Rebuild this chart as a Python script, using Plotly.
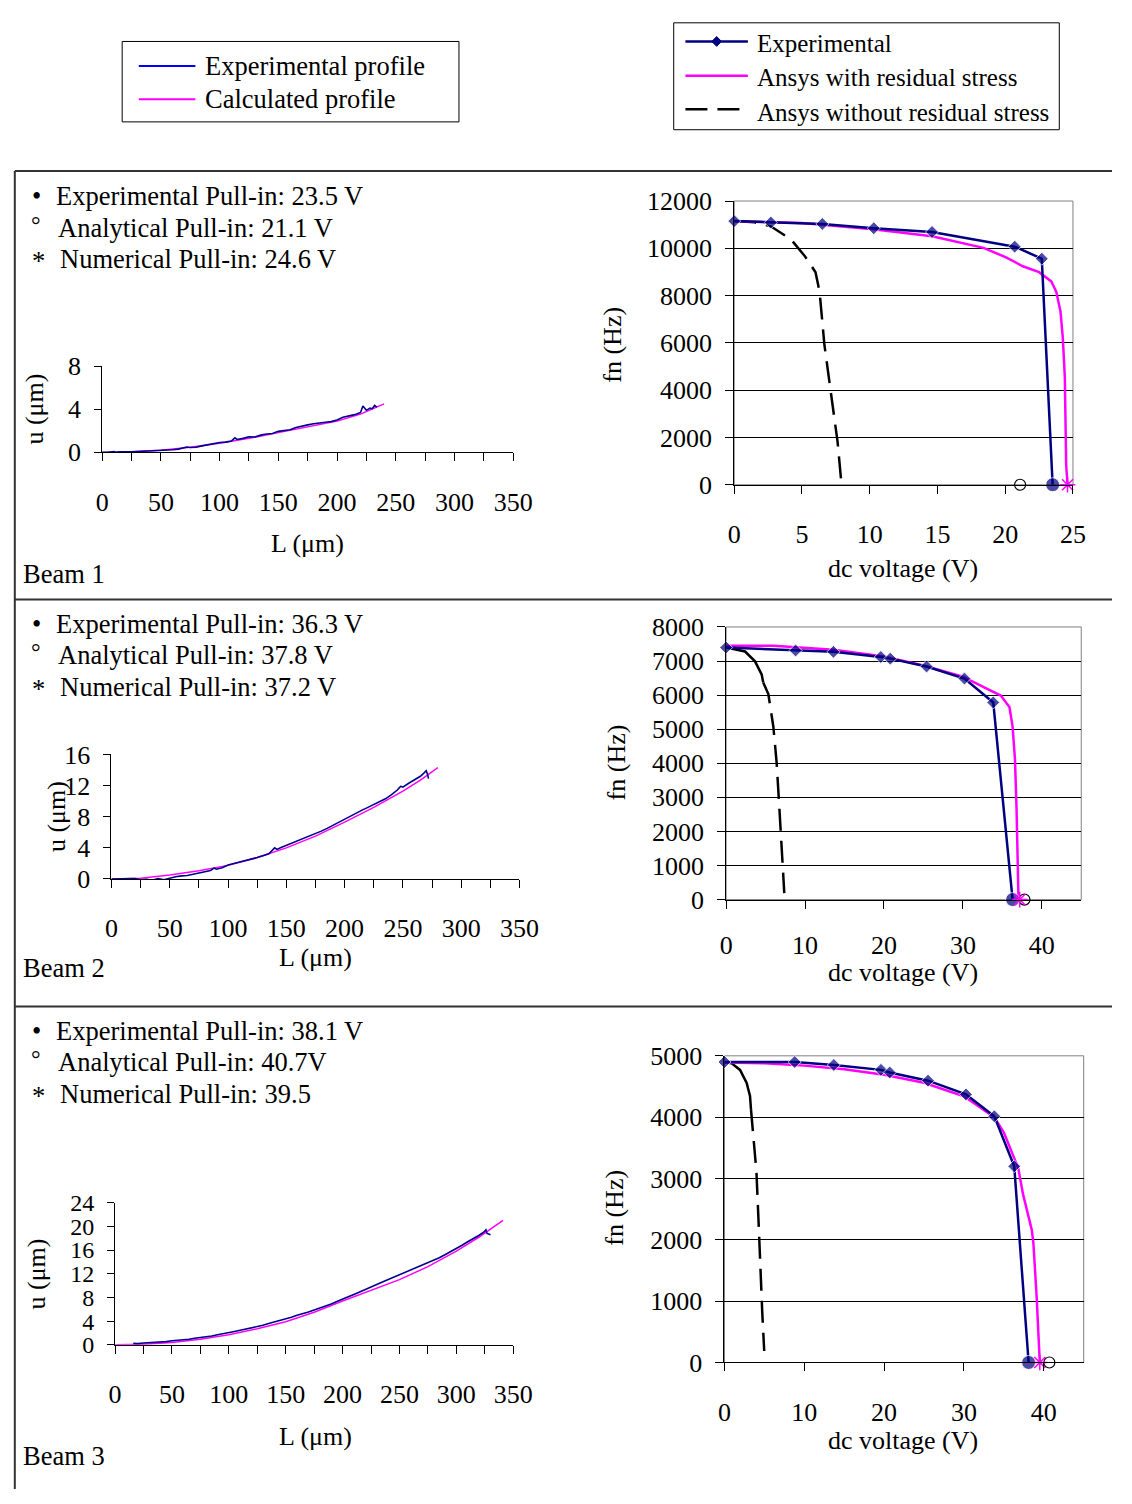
import plotly.graph_objects as go

W, H = 1132, 1504
FONT = "Liberation Serif"

# ---------------- data ----------------
# Deflection profiles (L in um, u in um)
b1_exp_L = [0, 5, 10, 12, 15, 20, 25, 30, 35, 40, 45, 50, 55, 60, 65, 70, 72, 75, 80, 85, 90, 95, 100, 105, 110, 113,
            115, 120, 125, 130, 135, 140, 145, 150, 155, 160, 165, 170, 175, 180, 185, 190, 195, 200, 205, 210, 215,
            220, 222, 225, 228, 230, 232, 234]
b1_exp_u = [0, 0, 0.08, 0, 0.05, 0.02, 0.05, 0.08, 0.1, 0.12, 0.18, 0.16, 0.22, 0.25, 0.3, 0.42, 0.5, 0.45, 0.48, 0.6,
            0.72, 0.8, 0.92, 0.95, 1.05, 1.35, 1.2, 1.3, 1.45, 1.42, 1.6, 1.7, 1.75, 1.95, 2.05, 2.1, 2.3, 2.45, 2.55,
            2.65, 2.75, 2.8, 2.85, 3.0, 3.25, 3.35, 3.5, 3.7, 4.3, 3.9, 4.1, 4.05, 4.35, 4.2]
b1_calc_L = [0, 25, 50, 75, 100, 125, 150, 175, 200, 220, 240]
b1_calc_u = [0, 0.05, 0.2, 0.47, 0.85, 1.3, 1.83, 2.35, 2.9, 3.55, 4.5]

b2_exp_L = [0, 10, 20, 25, 30, 35, 40, 45, 50, 55, 60, 65, 70, 75, 80, 85, 88, 90, 95, 100, 105, 110, 115, 120, 125,
            130, 135, 140, 142, 145, 150, 155, 160, 165, 170, 175, 180, 185, 190, 195, 200, 205, 210, 215, 220, 225,
            230, 235, 240, 245, 248, 250, 255, 260, 265, 268, 270, 271, 272]
b2_exp_u = [0, 0, 0.05, -0.1, -0.05, -0.15, 0.05, -0.1, 0.15, 0.3, 0.4, 0.45, 0.6, 0.75, 0.9, 1.1, 1.4, 1.25, 1.45,
            1.8, 2.0, 2.2, 2.35, 2.5, 2.75, 3.0, 3.25, 4.0, 3.8, 4.0, 4.3, 4.6, 4.9, 5.2, 5.5, 5.8, 6.15, 6.5, 6.9,
            7.3, 7.75, 8.05, 8.5, 8.85, 9.2, 9.55, 9.85, 10.3, 10.8, 11.4, 11.9, 11.8, 12.3, 12.7, 13.2, 13.6, 13.9,
            13.5, 12.9]
b2_calc_L = [0, 25, 50, 75, 100, 125, 150, 175, 200, 225, 250, 265, 280]
b2_calc_u = [0, 0.1, 0.5, 1.05, 1.75, 2.75, 4.0, 5.5, 7.3, 9.2, 11.3, 12.7, 14.3]

b3_exp_L = [16, 20, 25, 30, 35, 40, 45, 50, 55, 60, 65, 70, 75, 80, 85, 90, 95, 100, 105, 110, 115, 120, 125, 130,
            135, 140, 145, 150, 155, 160, 165, 170, 175, 180, 185, 190, 195, 200, 205, 210, 215, 220, 225, 230, 235,
            240, 245, 250, 255, 260, 265, 270, 275, 280, 285, 290, 295, 300, 305, 310, 315, 320, 324, 326, 327, 330]
b3_exp_u = [0.25, 0.2, 0.3, 0.35, 0.45, 0.5, 0.55, 0.7, 0.75, 0.85, 0.95, 1.1, 1.2, 1.4, 1.5, 1.7, 1.85, 2.05, 2.25,
            2.45, 2.65, 2.85, 3.1, 3.3, 3.6, 3.85, 4.1, 4.4, 4.65, 5.0, 5.25, 5.55, 5.9, 6.2, 6.55, 6.9, 7.3, 7.75,
            8.1, 8.5, 8.95, 9.35, 9.8, 10.2, 10.6, 11.0, 11.4, 11.8, 12.3, 12.65, 13.0, 13.4, 13.8, 14.2, 14.7, 15.2,
            15.7, 16.3, 16.8, 17.4, 17.9, 18.5, 19.0, 19.4, 18.8, 18.6]
b3_calc_L = [0, 25, 50, 75, 100, 125, 150, 175, 200, 225, 250, 275, 300, 320, 341]
b3_calc_u = [0, 0.1, 0.4, 0.95, 1.7, 2.7, 3.9, 5.5, 7.4, 9.2, 11.0, 13.2, 15.8, 18.2, 21.0]

# Natural frequency vs dc voltage (V, Hz)
b1_exp_v = [0, 2.7, 6.5, 10.3, 14.6, 20.7, 22.7, 23.5]
b1_exp_f = [11150, 11090, 11030, 10850, 10690, 10070, 9560, 0]
b1_res_v = [0, 5, 10.25, 14.6, 18.4, 20.1, 21.3, 22.5, 23.4, 23.77, 24.08, 24.25, 24.4, 24.45, 24.5, 24.6]
b1_res_f = [11150, 11070, 10810, 10510, 10020, 9610, 9240, 8990, 8600, 8160, 7330, 6220, 4560, 1800, 830, 0]
b1_nores_v = [0, 1.5, 2.7, 4.2, 5.2, 6.0, 6.3, 6.65, 7.14, 7.63, 7.92]
b1_nores_f = [11150, 11100, 10930, 10370, 9680, 8990, 8160, 5950, 3870, 1800, 0]

b2_exp_v = [0, 8.8, 13.6, 19.6, 20.8, 25.4, 30.2, 33.85, 36.3]
b2_exp_f = [7395, 7310, 7270, 7120, 7070, 6840, 6485, 5785, 0]
b2_res_v = [0, 6, 13.6, 20, 25, 30, 32.7, 34.8, 35.9, 36.3, 36.6, 36.8, 37.05]
b2_res_f = [7450, 7450, 7330, 7130, 6870, 6540, 6226, 5987, 5651, 5077, 4119, 2682, 0]
b2_nores_v = [0, 2.4, 3.66, 4.5, 4.7, 5.35, 5.98, 6.4, 6.7, 7.0, 7.37]
b2_nores_f = [7400, 7280, 6990, 6610, 6370, 6030, 5080, 4020, 2870, 1720, 190]

b3_exp_v = [0, 8.8, 13.7, 19.6, 20.7, 25.5, 30.25, 33.8, 36.3, 38.1]
b3_exp_f = [4899, 4899, 4851, 4771, 4728, 4595, 4371, 4014, 3198, 0]
b3_res_v = [0, 5, 10, 15, 20, 25, 30, 33.8, 35, 36.8, 37.4, 38.5, 38.7, 39.1, 39.5]
b3_res_f = [4890, 4880, 4840, 4780, 4690, 4560, 4340, 4000, 3750, 3170, 2745, 2160, 1945, 1090, 0]
b3_nores_v = [0, 0.9, 1.95, 2.78, 3.2, 3.32, 3.6, 4.0, 4.23, 4.44, 4.73, 4.98]
b3_nores_f = [4900, 4877, 4770, 4557, 4344, 4131, 3758, 3118, 2425, 1626, 826, 187]

# Pull-in voltages [analytical, numerical]
b1_pull = [21.1, 24.6]
b2_pull = [37.8, 37.2]
b3_pull = [40.7, 39.5]

b1_text = ["Experimental Pull-in: 23.5 V", "Analytical Pull-in: 21.1 V", "Numerical Pull-in: 24.6 V"]
b2_text = ["Experimental Pull-in: 36.3 V", "Analytical Pull-in: 37.8 V", "Numerical Pull-in: 37.2 V"]
b3_text = ["Experimental Pull-in: 38.1 V", "Analytical Pull-in: 40.7V", "Numerical Pull-in: 39.5"]
beam_names = ["Beam 1", "Beam 2", "Beam 3"]

# ---------------- helpers ----------------
def fx(p):
    return p / W


def fy(p):
    return 1 - p / H


NAVY = "#000080"
MAG = "#FF00FF"
PBLUE = "#00008F"

fig = go.Figure()
ann = []
shapes = []

TICKFONT = dict(family=FONT, size=26, color="black")


def add_text(x, y, t, anchor="left", size=26.5, angle=0):
    ann.append(dict(x=fx(x), y=fy(y), xref="paper", yref="paper", text=t, showarrow=False,
                    xanchor=anchor, yanchor="middle", textangle=angle, borderpad=0,
                    font=dict(family=FONT, size=size, color="black")))


# profile subplots
profiles = [
    (1, (97.5, 518.6), (447, 359), 8, 26, b1_exp_L, b1_exp_u, b1_calc_L, b1_calc_u),
    (3, (107, 525), (882, 755), 16, 26, b2_exp_L, b2_exp_u, b2_calc_L, b2_calc_u),
    (5, (110.7, 518.6), (1357, 1212), 24, 24, b3_exp_L, b3_exp_u, b3_calc_L, b3_calc_u),
]
for idx, xd, yd, ymax, yfs, eL, eu, cL, cu in profiles:
    xs = "x" if idx == 1 else f"x{idx}"
    ys = "y" if idx == 1 else f"y{idx}"
    fig.add_trace(go.Scatter(x=cL, y=cu, mode="lines", line=dict(color=MAG, width=1.5),
                             xaxis=xs, yaxis=ys, showlegend=False, cliponaxis=False))
    fig.add_trace(go.Scatter(x=eL, y=eu, mode="lines", line=dict(color=PBLUE, width=1.6),
                             xaxis=xs, yaxis=ys, showlegend=False, cliponaxis=False))
    kx = "xaxis" if idx == 1 else f"xaxis{idx}"
    ky = "yaxis" if idx == 1 else f"yaxis{idx}"
    fig.layout[kx] = dict(domain=[fx(xd[0]), fx(xd[1])], range=[0, 350], tick0=0, dtick=50,
                          ticks="outside", ticklen=8, tickcolor="black", showline=True, linecolor="black",
                          linewidth=1, showgrid=False, zeroline=False, tickfont=TICKFONT,
                          ticklabelstandoff=18, anchor=ys, fixedrange=True,
                          minor=dict(dtick=25, tick0=0, ticks="outside", ticklen=8, tickcolor="black",
                                     showgrid=False))
    fig.layout[ky] = dict(domain=[fy(yd[0]), fy(yd[1])], range=[0, ymax], tick0=0, dtick=4,
                          ticks="outside", ticklen=7, tickcolor="black", showline=True, linecolor="black",
                          linewidth=1, showgrid=False, zeroline=False,
                          tickfont=dict(family=FONT, size=yfs, color="black"),
                          ticklabelstandoff=8, anchor=xs, fixedrange=True)

# frequency subplots
freqs = [
    (2, (745, 1092), (480, 190.7), 25, 5, 12000, 2000, b1_exp_v, b1_exp_f, b1_res_v, b1_res_f,
     b1_nores_v, b1_nores_f, 0, b1_pull, 18),
    (4, (736.7, 1100.5), (903, 625), 45, 10, 8000, 1000, b2_exp_v, b2_exp_f, b2_res_v, b2_res_f,
     b2_nores_v, b2_nores_f, 4, b2_pull, 14),
    (6, (735, 1103), (1375, 1062.3), 45, 10, 5000, 1000, b3_exp_v, b3_exp_f, b3_res_v, b3_res_f,
     b3_nores_v, b3_nores_f, 5, b3_pull, 18),
]
for idx, xd, yd, xmax, xdt, ymax, ydt, ev, ef, rv, rf, nv, nf, nsolid, pull, xso in freqs:
    xs, ys = f"x{idx}", f"y{idx}"
    if nsolid > 0:
        fig.add_trace(go.Scatter(x=nv[:nsolid + 1], y=nf[:nsolid + 1], mode="lines",
                                 line=dict(color="black", width=2.5), xaxis=xs, yaxis=ys,
                                 showlegend=False, cliponaxis=False))
        dv, dfq = nv[nsolid:], nf[nsolid:]
    else:
        dv, dfq = nv, nf
    fig.add_trace(go.Scatter(x=dv, y=dfq, mode="lines", line=dict(color="black", width=2.5, dash="22px,10px"),
                             xaxis=xs, yaxis=ys, showlegend=False, cliponaxis=False))
    fig.add_trace(go.Scatter(x=rv, y=rf, mode="lines", line=dict(color=MAG, width=2.5),
                             xaxis=xs, yaxis=ys, showlegend=False, cliponaxis=False))
    n = len(ev)
    fig.add_trace(go.Scatter(x=ev, y=ef, mode="lines+markers", line=dict(color=NAVY, width=2.5),
                             marker=dict(symbol=["diamond"] * (n - 1) + ["circle"],
                                         size=[10] * (n - 1) + [14], color=NAVY),
                             xaxis=xs, yaxis=ys, showlegend=False, cliponaxis=False))
    fig.add_trace(go.Scatter(x=[pull[0]], y=[0], mode="markers",
                             marker=dict(symbol="circle-open", size=11, color="black", line=dict(width=1.2)),
                             xaxis=xs, yaxis=ys, showlegend=False, cliponaxis=False))
    fig.add_trace(go.Scatter(x=[pull[1]], y=[0], mode="markers",
                             marker=dict(symbol="asterisk-open", size=13, color=MAG,
                                         line=dict(width=1.5, color=MAG)),
                             xaxis=xs, yaxis=ys, showlegend=False, cliponaxis=False))
    fig.layout[f"xaxis{idx}"] = dict(domain=[fx(xd[0]), fx(xd[1])], range=[0, xmax], tick0=0, dtick=xdt,
                                     ticks="outside", ticklen=8, tickcolor="black", showline=True,
                                     linecolor="black", linewidth=1, showgrid=False, zeroline=False,
                                     tickfont=TICKFONT, ticklabelstandoff=xso, anchor=ys, fixedrange=True)
    fig.layout[f"yaxis{idx}"] = dict(domain=[fy(yd[0]), fy(yd[1])], range=[0, ymax], tick0=0, dtick=ydt,
                                     ticks="outside", ticklen=8, tickcolor="black", showline=True,
                                     linecolor="black", linewidth=1, showgrid=True, gridcolor="black",
                                     gridwidth=1, zeroline=False, tickfont=TICKFONT, ticklabelstandoff=8,
                                     tickformat="d", anchor=xs, fixedrange=True)
    shapes.append(dict(type="rect", xref=f"x{idx} domain", yref=f"y{idx} domain", x0=0, x1=1, y0=0, y1=1,
                       line=dict(color="#808080", width=1), layer="below"))

# axis titles
for (xx, yy) in [(28, 403), (50, 818), (30, 1285)]:
    add_text(xx, yy, "u (μm)", anchor="center", size=26, angle=-90)
for (xx, yy) in [(308, 540), (316, 962), (316, 1450)]:
    add_text(xx, yy, "L (μm)", anchor="center", size=26)
for (xx, yy) in [(620, 337), (624, 763), (622, 1217)]:
    add_text(xx, yy, "fn (Hz)", anchor="center", size=26, angle=-90)
for yy in [565, 977, 1455]:
    add_text(918, yy, "dc voltage (V)", anchor="center", size=26)

# panel texts
for texts, y0, beam, by in [(b1_text, 186, beam_names[0], 571), (b2_text, 622, beam_names[1], 973),
                            (b3_text, 1037, beam_names[2], 1470)]:
    add_text(30, y0, "•", anchor="center")
    add_text(49, y0, texts[0])
    add_text(30, y0 + 29, "°", anchor="center", size=24)
    add_text(51, y0 + 32, texts[1])
    add_text(32, y0 + 66, "*", anchor="center")
    add_text(53, y0 + 64, texts[2])
    add_text(15, by, beam)

# panel frame lines
for yy in [160, 597, 1012]:
    shapes.append(dict(type="line", xref="paper", yref="paper", x0=fx(8), x1=1, y0=fy(yy), y1=fy(yy),
                       line=dict(color="#333333", width=2)))
shapes.append(dict(type="line", xref="paper", yref="paper", x0=fx(8), x1=fx(8), y0=fy(160), y1=0,
                   line=dict(color="#333333", width=2)))

# legend 1 (profiles)
shapes.append(dict(type="rect", xref="paper", yref="paper", x0=fx(118), x1=fx(463), y0=fy(110), y1=fy(28),
                   line=dict(color="black", width=1)))
for yy, col, t in [(53, "#0000FF", "Experimental profile"), (87, MAG, "Calculated profile")]:
    shapes.append(dict(type="line", xref="paper", yref="paper", x0=fx(135), x1=fx(193), y0=fy(yy), y1=fy(yy),
                       line=dict(color=col, width=2)))
    add_text(202, yy, t)

# legend 2 (frequency)
shapes.append(dict(type="rect", xref="paper", yref="paper", x0=fx(683), x1=fx(1078), y0=fy(118), y1=fy(9),
                   line=dict(color="black", width=1)))
shapes.append(dict(type="line", xref="paper", yref="paper", x0=fx(695), x1=fx(759), y0=fy(28), y1=fy(28),
                   line=dict(color=NAVY, width=2.5)))
dcx, dcy, dd = 727, 28, 5
shapes.append(dict(type="path", xref="paper", yref="paper",
                   path=f"M {fx(dcx - dd)},{fy(dcy)} L {fx(dcx)},{fy(dcy - dd)} L {fx(dcx + dd)},{fy(dcy)} "
                        f"L {fx(dcx)},{fy(dcy + dd)} Z",
                   fillcolor=NAVY, line=dict(color=NAVY, width=1)))
shapes.append(dict(type="line", xref="paper", yref="paper", x0=fx(695), x1=fx(759), y0=fy(63), y1=fy(63),
                   line=dict(color=MAG, width=2.5)))
shapes.append(dict(type="line", xref="paper", yref="paper", x0=fx(695), x1=fx(759), y0=fy(97), y1=fy(97),
                   line=dict(color="black", width=2.5, dash="22px,10px")))
add_text(767, 30, "Experimental", size=25)
add_text(767, 65, "Ansys with residual stress", size=25)
add_text(767, 100, "Ansys without residual stress", size=25)

fig.update_layout(width=W, height=H, margin=dict(l=0, r=0, t=0, b=0), paper_bgcolor="white",
                  plot_bgcolor="white", showlegend=False, annotations=ann, shapes=shapes,
                  font=dict(family=FONT, color="black"))

fig.write_html("out.html", config={"displayModeBar": False},
               post_script="document.body.style.margin='0';document.body.style.padding='0';"
                           "document.documentElement.style.overflow='hidden';")
